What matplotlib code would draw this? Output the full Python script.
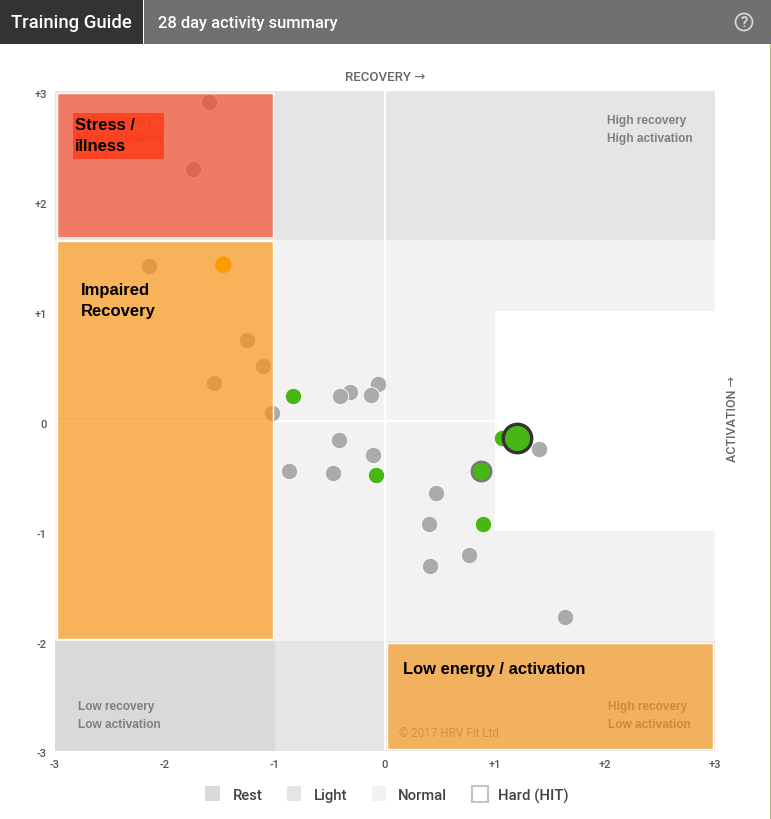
import matplotlib
matplotlib.use('Agg')
import matplotlib.pyplot as plt
from matplotlib.patches import Rectangle, Circle
from matplotlib.transforms import Affine2D

W, H = 771, 820

# days (recovery, activation)
grey_x = [-0.06, -0.32, -0.41, -0.13, -1.03, -0.42, -0.11, -0.87, -0.47, 0.46, 0.40, 0.76, 0.41, 1.64, 1.40,
          -2.15, -1.25, -1.11, -1.55, -1.60, -1.75]
grey_y = [0.34, 0.26, 0.23, 0.24, 0.07, -0.17, -0.31, -0.45, -0.47, -0.65, -0.94, -1.22, -1.32, -1.78, -0.25,
          1.41, 0.74, 0.50, 0.35, 2.90, 2.29]
green_x = [-0.84, -0.08, 0.89, 1.06]
green_y = [0.23, -0.49, -0.94, -0.15]
orange_x = [-1.47]
orange_y = [1.42]
recent_x = [0.87]
recent_y = [-0.45]
today_x = [1.20]
today_y = [-0.15]

ticks = [-3, -2, -1, 0, 1, 2, 3]
tick_labels = ['-3', '-2', '-1', '0', '+1', '+2', '+3']
legend_names = ['Rest', 'Light', 'Normal', 'Hard (HIT)']

REST = '#d9d9d9'
LIGHT = '#e5e5e5'
NORMAL = '#f2f2f2'
DIN = ['Roboto', 'DejaVu Sans']
HELV = 'Liberation Sans'

fig = plt.figure(figsize=(W / 100, H / 100), dpi=100)
px = Affine2D().scale(1, -1).translate(0, H - 1)


def box(x0, y0, x1, y1, **kw):
    fig.add_artist(Rectangle((x0, y0), x1 - x0, y1 - y0, transform=px, **kw))


def label(x, y, s, **kw):
    fig.text(x, y, s, transform=px, **kw)


ax = fig.add_axes([55 / W, 1 - 752 / H, 660 / W, 660 / H])
ax.set_xlim(-3, 3)
ax.set_ylim(-3, 3)
for s in ax.spines.values():
    s.set_visible(False)
ax.set_xticks(ticks, tick_labels, family=DIN, fontsize=8, fontweight='medium', color='#555555')
ax.set_yticks(ticks, tick_labels, family=DIN, fontsize=8, fontweight='medium', color='#555555')
ax.tick_params(length=0, pad=6)
for t in ax.get_yticklabels():
    t.set_transform(t.get_transform() + Affine2D().translate(0, -1.5))

# training zones
ax.add_patch(Rectangle((-3, -3), 6, 6, fc=NORMAL, ec='none', zorder=1))
ax.add_patch(Rectangle((-3, 1.65), 6, 1.35, fc=LIGHT, ec='none', zorder=1))
ax.add_patch(Rectangle((-3, -3), 2, 1, fc=REST, ec='none', zorder=1))
ax.add_patch(Rectangle((-1, -3), 4, 1, fc=LIGHT, ec='none', zorder=1))
ax.add_patch(Rectangle((1, -1), 2, 2, fc='white', ec='none', zorder=1))
ax.plot([0, 0], [-3, 3], color='white', lw=1.6, zorder=2)
ax.plot([-3, 3], [0, 0], color='white', lw=1.6, zorder=2)

# corner labels, the warning boxes sit on top of some of them
for x, y, s in [(607, 120, 'High recovery'), (607, 138, 'High activation'),
                (78, 706, 'Low recovery'), (78, 724, 'Low activation'),
                (608, 706, 'High recovery'), (608, 724, 'Low activation'),
                (77, 120, 'Low recovery'), (77, 138, 'High activation')]:
    ax.text(x, y, s, transform=px, family=HELV, fontweight='bold', fontsize=8.6,
            color='#7f7f7f', va='center', zorder=2.5)
ax.text(399, 733, '© 2017 HRV Fit Ltd', transform=px, family=DIN, fontsize=8.5,
        color='#909090', va='center', zorder=2.5)

# points
ax.scatter(grey_x, grey_y, s=140, c='#ababab', edgecolors='white', linewidths=0.6, zorder=3)
ax.scatter(green_x, green_y, s=140, c='#48b614', edgecolors='white', linewidths=0.6, zorder=3)
ax.scatter(recent_x, recent_y, s=200, c='#48b614', edgecolors='#777777', linewidths=1.6, zorder=3.2)
ax.scatter(today_x, today_y, s=420, c='#48b614', edgecolors='#333333', linewidths=2.4, zorder=3.4)

# warning boxes
ax.add_patch(Rectangle((-2.98, 1.67), 1.96, 1.31, fc='#f5472a', alpha=0.67, ec='none', zorder=4))
ax.add_patch(Rectangle((-2.98, 1.65), 1.96, 1.33, fc='none', ec='white', lw=1.0, zorder=4))
ax.add_patch(Rectangle((-2.98, -1.98), 1.96, 3.62, fc='#fb930f', alpha=0.67, ec='none', zorder=4))
ax.add_patch(Rectangle((-2.98, -1.98), 1.96, 3.62, fc='none', ec='white', lw=1.0, zorder=4))
ax.add_patch(Rectangle((0.02, -2.98), 2.96, 0.96, fc='#fb930f', alpha=0.63, ec='none', zorder=4))
ax.add_patch(Rectangle((0.02, -2.98), 2.96, 0.96, fc='none', ec='white', lw=1.0, zorder=4))
ax.scatter(orange_x, orange_y, s=140, c='#ff9900', edgecolors='none', zorder=5)

ax.add_patch(Rectangle((73, 113), 91, 46, transform=px, fc='#fe3915', alpha=0.8, ec='none', zorder=5))
ax.text(75, 125, 'Stress /', transform=px, family=HELV, fontweight='bold', fontsize=12,
        color='black', va='center', zorder=6)
ax.text(75, 146, 'illness', transform=px, family=HELV, fontweight='bold', fontsize=12,
        color='black', va='center', zorder=6)
ax.text(81, 290, 'Impaired', transform=px, family=HELV, fontweight='bold', fontsize=12,
        color='black', va='center', zorder=6)
ax.text(81, 311, 'Recovery', transform=px, family=HELV, fontweight='bold', fontsize=12,
        color='black', va='center', zorder=6)
ax.text(403, 669, 'Low energy / activation', transform=px, family=HELV, fontweight='bold', fontsize=11.9,
        color='black', va='center', zorder=6)

# header
box(0, -1, 143, 44, fc='#333333', ec='none')
box(144, -1, W, 44, fc='#6f6f6f', ec='none')
label(11, 22, 'Training Guide', family=DIN, fontsize=13.3, fontweight='medium', color='white', va='center')
label(158, 23, '28 day activity summary', family=DIN, fontsize=11.85, fontweight='medium', color='white', va='center')
fig.add_artist(Circle((744, 22), 8.5, transform=px, fc='none', ec='#d5d5d5', lw=1.3))
label(744, 22.5, '?', family=DIN, fontsize=10.5, fontweight='bold', color='#d5d5d5', va='center', ha='center')
box(770, 44, W, H, fc='#b4bc7c', ec='none')

# axis names
label(385, 77, 'RECOVERY →', family=DIN, fontsize=9.5, fontweight='medium', color='#666666', va='center', ha='center')
label(733, 418, 'ACTIVATION →', family=DIN, fontsize=9.0, fontweight='medium', color='#666666',
      va='center', ha='center', rotation=90)

# legend
box(205, 786, 220, 801, fc=REST, ec='none')
box(287, 786, 301, 801, fc=LIGHT, ec='none')
box(372, 786, 386, 801, fc=NORMAL, ec='none')
box(472, 786, 488, 802, fc='white', ec='#c4c4c4', lw=1.5)
for x, s in zip([233, 314, 398, 498], legend_names):
    label(x, 795, s, family=DIN, fontsize=10.7, fontweight='medium', color='#444444', va='center')

fig.savefig('out.png', dpi=100)
